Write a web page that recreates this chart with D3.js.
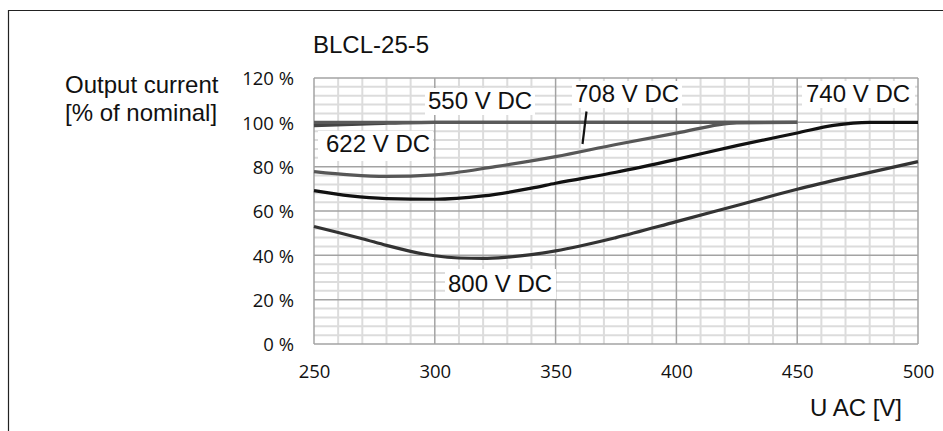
<!DOCTYPE html>
<html>
<head>
<meta charset="utf-8">
<script src="https://cdn.jsdelivr.net/npm/d3@7"></script>
<style>
  html, body { margin: 0; padding: 0; background: #fff; }
  svg { display: block; }
  .lbl { font-family: "Liberation Sans", Arial, sans-serif; font-size: 24px; fill: #111; }
  .tick-lbl { font-family: "Open Sans", sans-serif; font-size: 18.5px; fill: #111; }
</style>
</head>
<body>
<svg id="chart" width="943" height="431"></svg>
<script>
// Input voltage (V AC) and derating curves (% of nominal output current)
const uac550 = [250, 450];
const cur550 = [100, 100];

const uac622 = [250, 275, 300, 350, 400, 450];
const cur622 = [98.5, 99.4, 100, 100, 100, 100];

const uac708 = [250, 265, 280, 300, 325, 350, 375, 400, 425, 450];
const cur708 = [77.8, 76.3, 75.6, 76.3, 80.0, 84.5, 90.0, 95.1, 99.8, 100];

const uac740 = [250, 265, 280, 300, 320, 340, 350, 375, 400, 425, 450, 465, 480, 500];
const cur740 = [69.2, 66.8, 65.6, 65.3, 66.8, 70.3, 72.5, 77.5, 83.3, 89.5, 95.2, 98.6, 100, 100];

const uac800 = [250, 260, 270, 280, 290, 300, 310, 320, 330, 340, 350, 375, 400, 425, 450, 475, 500];
const cur800 = [53, 50.3, 47.5, 44.5, 41.8, 39.8, 38.8, 38.6, 39.2, 40.3, 42, 48, 55.2, 62.5, 69.8, 76.2, 82.3];

const xTicks = [250, 300, 350, 400, 450, 500];
const yTicks = [0, 20, 40, 60, 80, 100, 120];

const svg = d3.select("#chart");
const plot = { left: 314, right: 918, top: 78, bottom: 344 };

const x = d3.scaleLinear().domain([250, 500]).range([plot.left, plot.right]);
const y = d3.scaleLinear().domain([0, 120]).range([plot.bottom, plot.top]);

// Frame lines on the top and left of the figure
svg.append("line").attr("x1", 8).attr("x2", 943).attr("y1", 10.5).attr("y2", 10.5)
  .attr("stroke", "#222").attr("stroke-width", 1.2);
svg.append("line").attr("x1", 8.5).attr("x2", 8.5).attr("y1", 10).attr("y2", 431)
  .attr("stroke", "#222").attr("stroke-width", 1.2);

// Minor grid
const g = svg.append("g");
g.selectAll(".vminor").data(d3.range(250, 501, 10).filter(v => v % 50 !== 0)).join("line")
  .attr("x1", d => x(d)).attr("x2", d => x(d)).attr("y1", y(0)).attr("y2", y(120))
  .attr("stroke", "#dcdcdc").attr("stroke-width", 2);
g.selectAll(".hminor").data(d3.range(0, 121, 4).filter(v => v % 20 !== 0)).join("line")
  .attr("x1", x(250)).attr("x2", x(500)).attr("y1", d => y(d)).attr("y2", d => y(d))
  .attr("stroke", "#dcdcdc").attr("stroke-width", 2);

// Major grid
g.selectAll(".vmajor").data(xTicks).join("line")
  .attr("x1", d => x(d)).attr("x2", d => x(d)).attr("y1", y(0)).attr("y2", y(120))
  .attr("stroke", "#a3a3a3").attr("stroke-width", 1.5);
g.selectAll(".hmajor").data(yTicks).join("line")
  .attr("x1", x(250)).attr("x2", x(500)).attr("y1", d => y(d)).attr("y2", d => y(d))
  .attr("stroke", "#a3a3a3").attr("stroke-width", 1.5);

// Axis tick labels
const xAxis = d3.axisBottom(x).tickValues(xTicks).tickSize(0).tickPadding(0).tickFormat(d3.format("d"));
const gx = svg.append("g").attr("transform", `translate(0, 378)`).call(xAxis);
gx.select(".domain").remove();
gx.selectAll("text").attr("class", "tick-lbl").attr("dy", 0).attr("font-family", null).attr("font-size", null).attr("fill", null);

const yAxis = d3.axisLeft(y).tickValues(yTicks).tickSize(0).tickPadding(0).tickFormat(d => d + " %");
const gy = svg.append("g").attr("transform", `translate(294, 0)`).call(yAxis);
gy.select(".domain").remove();
gy.selectAll("text").attr("class", "tick-lbl").attr("dy", "0.36em").attr("font-family", null).attr("font-size", null).attr("fill", null);

// Curves
const line = d3.line().x(d => x(d[0])).y(d => y(d[1])).curve(d3.curveMonotoneX);
const series = [
  { u: uac800, c: cur800, color: "#333" },
  { u: uac708, c: cur708, color: "#575757" },
  { u: uac740, c: cur740, color: "#111" },
  { u: uac622, c: cur622, color: "#444" },
  { u: uac550, c: cur550, color: "#5a5a5a" }
];
svg.append("g").selectAll("path").data(series).join("path")
  .attr("d", s => line(d3.zip(s.u, s.c)))
  .attr("fill", "none").attr("stroke", s => s.color).attr("stroke-width", 3.2)
  .attr("stroke-linejoin", "round");

// Curve labels on white boxes
const labels = [
  { text: "550 V DC", tx: 428, ty: 109, box: [425, 88, 110, 27] },
  { text: "622 V DC", tx: 326, ty: 152, box: [318, 131, 115, 30] },
  { text: "708 V DC", tx: 575, ty: 102, box: [572, 81, 110, 27] },
  { text: "740 V DC", tx: 806, ty: 102, box: [802, 81, 113, 27] },
  { text: "800 V DC", tx: 448, ty: 292, box: [445, 269, 111, 30] }
];
const lg = svg.append("g");
lg.selectAll("rect").data(labels).join("rect")
  .attr("x", d => d.box[0]).attr("y", d => d.box[1])
  .attr("width", d => d.box[2]).attr("height", d => d.box[3]).attr("fill", "#fff");
lg.selectAll("text").data(labels).join("text")
  .attr("class", "lbl").attr("x", d => d.tx).attr("y", d => d.ty).text(d => d.text);

// Leader from the 708 V DC label to its curve
svg.append("line").attr("x1", 586.5).attr("y1", 111.5).attr("x2", 582.5).attr("y2", 144)
  .attr("stroke", "#111").attr("stroke-width", 2.2);

// Titles
svg.append("text").attr("class", "lbl").attr("x", 313).attr("y", 53).attr("font-size", "21px").text("BLCL-25-5");
svg.append("text").attr("class", "lbl").attr("x", 65).attr("y", 93).text("Output current");
svg.append("text").attr("class", "lbl").attr("x", 65).attr("y", 121).text("[% of nominal]");
svg.append("text").attr("class", "lbl").attr("x", 810).attr("y", 416).text("U AC [V]");
</script>
</body>
</html>
